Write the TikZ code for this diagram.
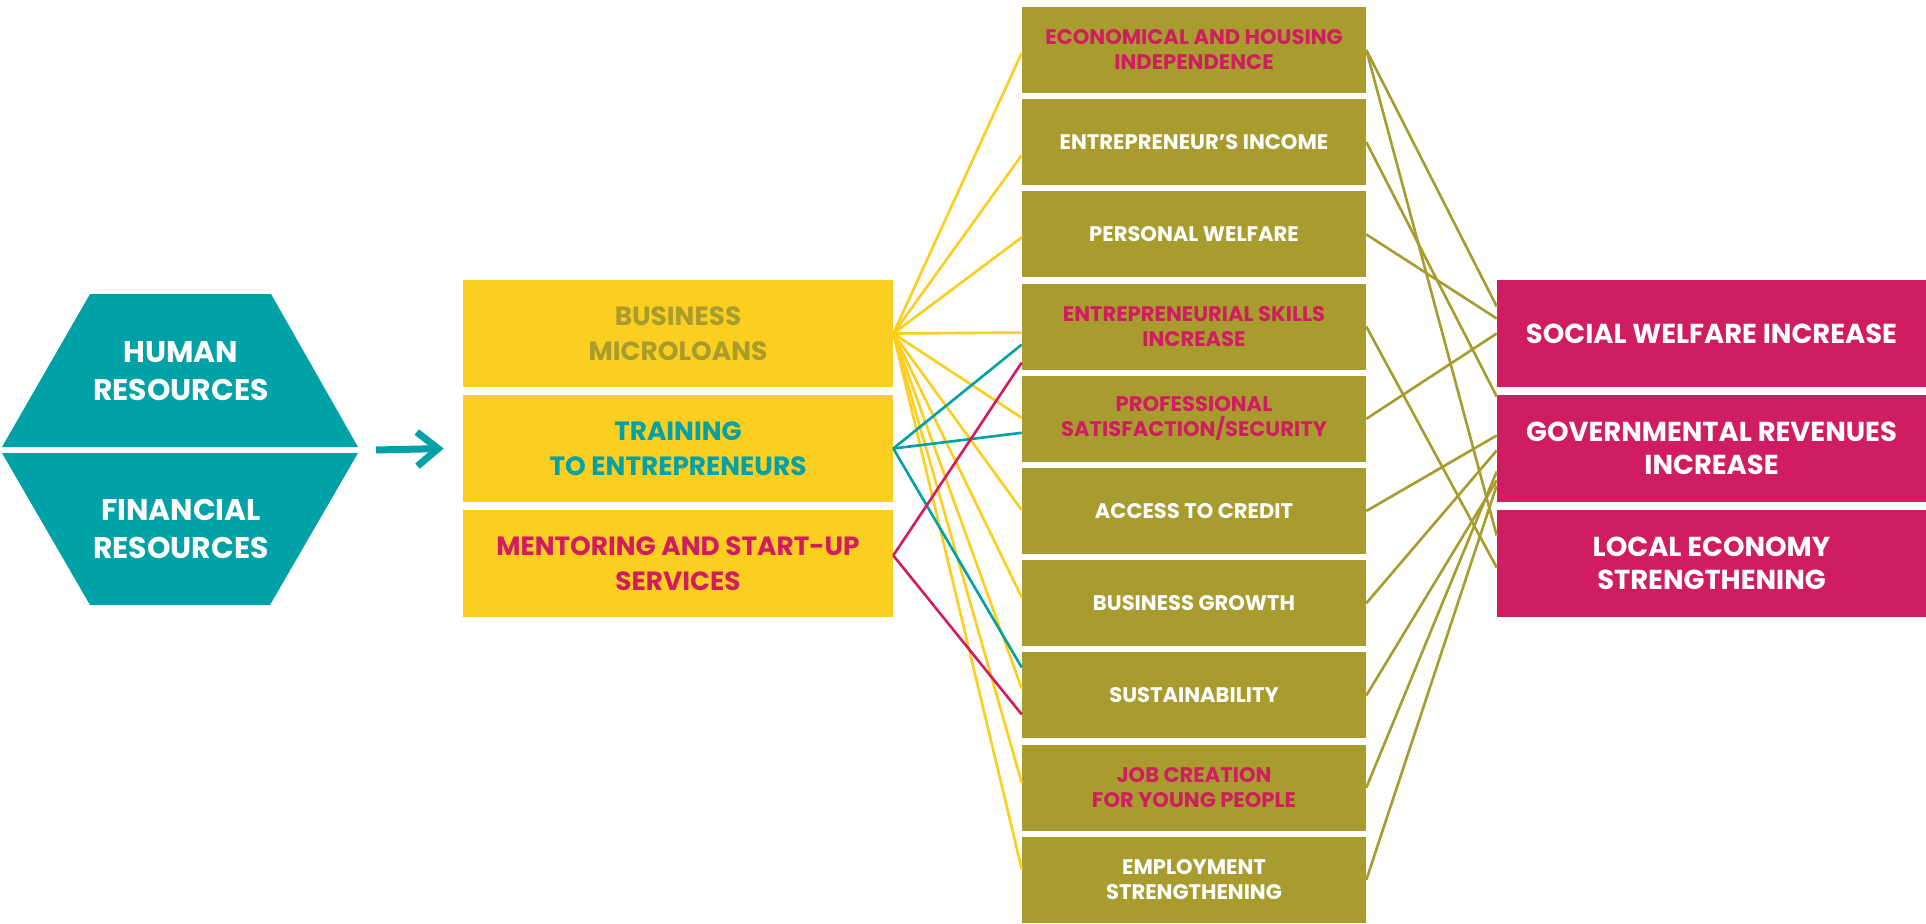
\documentclass[tikz,border=0pt]{standalone}
\usepackage{fontspec}
\setmainfont{Poppins}
\usetikzlibrary{calc,arrows.meta}

\definecolor{hexteal}{RGB}{0,161,167}
\definecolor{boxyellow}{RGB}{252,206,31}
\definecolor{boxolive}{RGB}{168,156,46}
\definecolor{boxpink}{RGB}{208,29,97}

\begin{document}
\begin{tikzpicture}[x=0.02cm,y=-0.02cm,
  htxt/.style={align=center,text=white,font=\bfseries\fontsize{17}{21.6}\selectfont},
  ybox/.style={fill=boxyellow,minimum width=8.6cm,minimum height=2.14cm,inner sep=0pt,
    align=center,font=\bfseries\fontsize{15}{19.9}\selectfont},
  obox/.style={fill=boxolive,minimum width=6.88cm,minimum height=1.72cm,inner sep=0pt,
    align=center,font=\bfseries\fontsize{12}{14.2}\selectfont},
  pbox/.style={fill=boxpink,text=white,minimum width=8.58cm,minimum height=2.14cm,inner sep=0pt,
    align=center,font=\bfseries\fontsize{15.6}{18.8}\selectfont},
  yline/.style={boxyellow,line width=1.5pt},
  tline/.style={hexteal,line width=1.5pt},
  pline/.style={boxpink,line width=1.5pt},
  oline/.style={boxolive,line width=1.5pt}]

\useasboundingbox (0,0) rectangle (1926,923);

% resources
\fill[hexteal] (90,294) -- (271,294) -- (358,447) -- (2,447) -- cycle;
\fill[hexteal] (2,453) -- (358,453) -- (270,605) -- (90,605) -- cycle;
\node[htxt] (hum) at (181,371) {HUMAN\\RESOURCES};
\node[htxt] (fin) at (181,529) {FINANCIAL\\RESOURCES};
\coordinate (hexr) at (358,450);

% activities
\node[ybox,text=boxolive] (biz) at (678,333.5) {BUSINESS\\MICROLOANS};
\node[ybox,text=hexteal] (train) at (678,448.5) {TRAINING\\TO ENTREPRENEURS};
\node[ybox,text=boxpink] (ment) at (678,563.5) {MENTORING AND START-UP\\SERVICES};

\draw[hexteal,line width=0.14cm,-{Straight Barb[length=0.42cm,width=0.68cm]}]
  ($(hexr)+(18,0)$) -- ($(train.west)+(-19,0)$);

% outcomes
\foreach \i/\t/\c in {1/{ECONOMICAL AND HOUSING\\INDEPENDENCE}/boxpink,
    2/{ENTREPRENEUR’S INCOME}/white,
    3/{PERSONAL WELFARE}/white,
    4/{ENTREPRENEURIAL SKILLS\\INCREASE}/boxpink,
    5/{PROFESSIONAL\\SATISFACTION/SECURITY}/boxpink,
    6/{ACCESS TO CREDIT}/white,
    7/{BUSINESS GROWTH}/white,
    8/{SUSTAINABILITY}/white,
    9/{JOB CREATION\\FOR YOUNG PEOPLE}/boxpink,
    10/{EMPLOYMENT\\STRENGTHENING}/white}
  \node[obox,text=\c] (o\i) at (1194,{50+92.2*(\i-1)}) {\t};

% impacts
\node[pbox] (soc) at (1711.5,333.5) {SOCIAL WELFARE INCREASE};
\node[pbox] (gov) at (1711.5,448.5) {GOVERNMENTAL REVENUES\\INCREASE};
\node[pbox] (loc) at (1711.5,563.5) {LOCAL ECONOMY\\STRENGTHENING};

% links
\foreach \i/\d in {1/3,2/13,3/3,4/6,5/-1,6/-1,7/-6,8/-7,9/-5,10/-11}
  \draw[yline] (biz.east) -- ($(o\i.west)+(0,\d)$);
\foreach \i/\d in {4/18,5/14,8/-28}
  \draw[tline] (train.east) -- ($(o\i.west)+(0,\d)$);
\foreach \i/\d in {4/36,8/19}
  \draw[pline] ($(ment.east)+(0,-8)$) -- ($(o\i.west)+(0,\d)$);
\foreach \i/\p/\d in {1/soc/-27,1/loc/-28,2/gov/-52,3/soc/-15,4/loc/4,5/soc/0,
    6/gov/-13,7/gov/2,8/gov/32,9/gov/23,10/gov/37}
  \draw[oline] (o\i.east) -- ($(\p.west)+(0,\d)$);

\end{tikzpicture}
\end{document}
